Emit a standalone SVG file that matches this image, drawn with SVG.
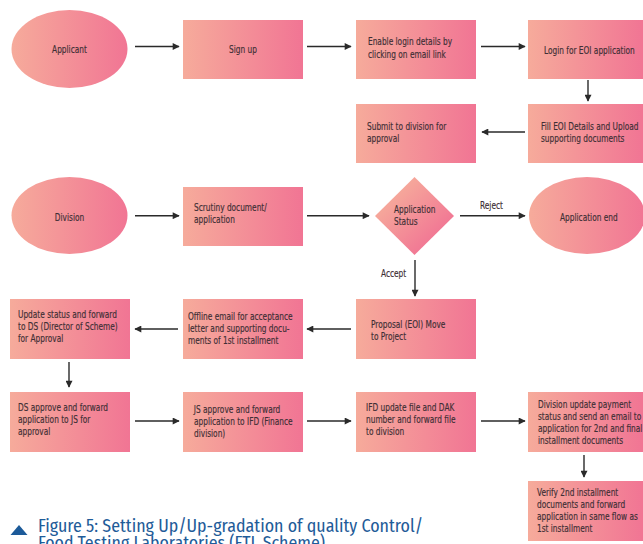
<svg xmlns="http://www.w3.org/2000/svg" width="643" height="544" viewBox="0 0 643 544">
<style>
.t{font-family:"DejaVu Sans Condensed","Liberation Sans",sans-serif;font-size:9.8px;fill:#3e2f35;stroke:#3e2f35;stroke-width:0.15;transform-box:fill-box;transform-origin:0% 50%;transform:scaleX(0.84)}
.c{text-anchor:middle;transform-origin:50% 50%}
.ln{stroke:#2a2a2a;stroke-width:1.4;fill:none;marker-end:url(#ah)}
.cap{font-family:"Fira Sans Condensed","Open Sans","Noto Sans",sans-serif;font-size:18px;fill:#1f5c99}
</style>
<defs>
<linearGradient id="g" x1="0" y1="0" x2="1" y2="0"><stop offset="0" stop-color="#f6ab9b"/><stop offset="1" stop-color="#f17594"/></linearGradient>
<linearGradient id="gd" x1="0.2" y1="0.2" x2="0.8" y2="0.8"><stop offset="0" stop-color="#f6ab9b"/><stop offset="1" stop-color="#f17594"/></linearGradient>
<marker id="ah" viewBox="0 0 10 10" refX="9" refY="5" markerWidth="8" markerHeight="7" orient="auto" markerUnits="userSpaceOnUse"><path d="M0,0 L10,5 L0,10 z" fill="#2a2a2a"/></marker>
</defs>
<rect width="643" height="544" fill="#fff"/>
<g id="connectors">
<line class="ln" x1="135" y1="46.5" x2="179" y2="46.5"/>
<line class="ln" x1="307" y1="46.5" x2="351" y2="46.5"/>
<line class="ln" x1="481" y1="46.5" x2="525" y2="46.5"/>
<line class="ln" x1="588" y1="80" x2="588" y2="101"/>
<line class="ln" x1="525" y1="132" x2="482" y2="132"/>
<line class="ln" x1="135" y1="215.7" x2="179" y2="215.7"/>
<line class="ln" x1="307" y1="215.7" x2="369" y2="215.7"/>
<line class="ln" x1="460" y1="215.7" x2="525" y2="215.7"/>
<text class="t" x="480" y="209">Reject</text>
<line class="ln" x1="415" y1="260" x2="415" y2="296"/>
<text class="t" x="381" y="277">Accept</text>
<line class="ln" x1="351" y1="329" x2="307" y2="329"/>
<line class="ln" x1="178" y1="329" x2="135" y2="329"/>
<line class="ln" x1="69" y1="362" x2="69" y2="387"/>
<line class="ln" x1="135" y1="421" x2="179" y2="421"/>
<line class="ln" x1="307" y1="421" x2="351" y2="421"/>
<line class="ln" x1="481" y1="421" x2="525" y2="421"/>
<line class="ln" x1="584" y1="455" x2="584" y2="477"/>
</g>
<g id="applicant"><ellipse cx="69.5" cy="49" rx="58" ry="39" fill="url(#g)"/><text class="t c" x="69.5" y="53">Applicant</text></g>
<g id="signup"><rect x="183" y="20" width="120" height="59" fill="url(#g)"/><text class="t c" x="243" y="53">Sign up</text></g>
<g id="enable"><rect x="356" y="20" width="120" height="59" fill="url(#g)"/><text class="t" x="368" y="45">Enable login details by</text><text class="t" x="368" y="58">clicking on email link</text></g>
<g id="login"><rect x="528" y="20" width="115" height="59" fill="url(#g)"/><text class="t" x="544" y="54">Login for EOI application</text></g>
<g id="fill"><rect x="528" y="104" width="115" height="59" fill="url(#g)"/><text class="t" x="541" y="130">Fill EOI Details and Upload</text><text class="t" x="541" y="142">supporting documents</text></g>
<g id="submit"><rect x="356" y="104" width="120" height="59" fill="url(#g)"/><text class="t" x="367" y="130">Submit to division for</text><text class="t" x="367" y="142">approval</text></g>
<g id="division"><ellipse cx="69.5" cy="215.5" rx="58" ry="38.5" fill="url(#g)"/><text class="t c" x="69.5" y="221">Division</text></g>
<g id="scrutiny"><rect x="183" y="187" width="120" height="59" fill="url(#g)"/><text class="t" x="194" y="211">Scrutiny document/</text><text class="t" x="194" y="223">application</text></g>
<g id="status"><polygon points="414.5,177 454,216 414.5,255 375,216" fill="url(#gd)"/><text class="t" x="394" y="213">Application</text><text class="t" x="394" y="225">Status</text></g>
<g id="append"><ellipse cx="587" cy="215.5" rx="58" ry="38.5" fill="url(#g)"/><text class="t" x="560" y="221">Application end</text></g>
<g id="proposal"><rect x="356" y="299" width="120" height="60" fill="url(#g)"/><text class="t" x="371" y="328">Proposal (EOI) Move</text><text class="t" x="371" y="340">to Project</text></g>
<g id="offline"><rect x="183" y="299" width="120" height="60" fill="url(#g)"/><text class="t" x="188" y="320">Offline email for acceptance</text><text class="t" x="188" y="332">letter and supporting docu-</text><text class="t" x="188" y="344">ments of 1st installment</text></g>
<g id="update"><rect x="10" y="299" width="120" height="60" fill="url(#g)"/><text class="t" x="18" y="318">Update status and forward</text><text class="t" x="18" y="330">to DS (Director of Scheme)</text><text class="t" x="18" y="342">for Approval</text></g>
<g id="ds"><rect x="10" y="392" width="120" height="60" fill="url(#g)"/><text class="t" x="18" y="411">DS approve and forward</text><text class="t" x="18" y="423">application to JS for</text><text class="t" x="18" y="435">approval</text></g>
<g id="js"><rect x="183" y="392" width="120" height="60" fill="url(#g)"/><text class="t" x="194" y="413">JS approve and forward</text><text class="t" x="194" y="425">application to IFD (Finance</text><text class="t" x="194" y="437">division)</text></g>
<g id="ifd"><rect x="356" y="392" width="120" height="60" fill="url(#g)"/><text class="t" x="366" y="411">IFD update file and DAK</text><text class="t" x="366" y="423">number and forward file</text><text class="t" x="366" y="435">to division</text></g>
<g id="divupdate"><rect x="528" y="392" width="115" height="60" fill="url(#g)"/><text class="t" x="538" y="408">Division update payment</text><text class="t" x="538" y="420">status and send an email to</text><text class="t" x="538" y="432">application for 2nd and final</text><text class="t" x="538" y="444">installment documents</text></g>
<g id="verify"><rect x="528" y="481" width="115" height="60" fill="url(#g)"/><text class="t" x="537" y="496">Verify 2nd installment</text><text class="t" x="537" y="508">documents and forward</text><text class="t" x="537" y="520">application in same flow as</text><text class="t" x="537" y="532">1st installment</text></g>
<g id="caption"><polygon points="19,525 27.5,535 10.5,535" fill="#1c5a99"/><text class="cap" x="38" y="532" textLength="385" lengthAdjust="spacingAndGlyphs">Figure 5: Setting Up/Up-gradation of quality Control/</text><text class="cap" x="38" y="549" textLength="287" lengthAdjust="spacingAndGlyphs">Food Testing Laboratories (FTL Scheme)</text></g>
</svg>
